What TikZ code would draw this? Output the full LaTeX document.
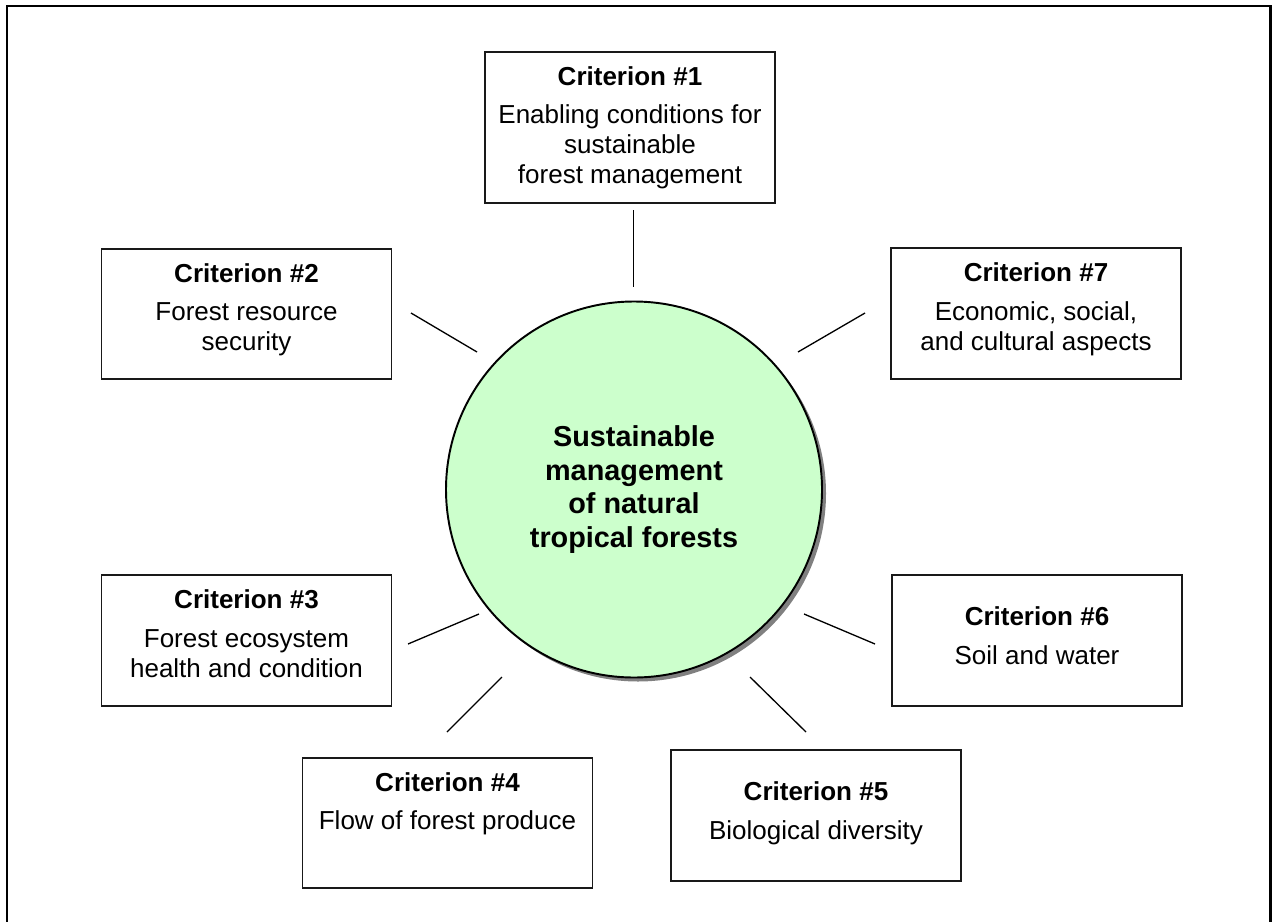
\documentclass[tikz,border=0pt]{standalone}
\usepackage{fontspec}
\setmainfont{Liberation Sans}
\usetikzlibrary{shadows}

\definecolor{hubgreen}{HTML}{CCFFCC}

\tikzset{
  critbox/.style={draw=black!90, line width=1pt, minimum width=5.8cm, minimum height=2.61cm, inner sep=0pt},
  crittext/.style={anchor=north, align=center, inner sep=0pt, font=\fontsize{14.8}{17}\selectfont},
  hub/.style={circle, draw=black, line width=1.1pt, fill=hubgreen, minimum size=7.52cm, inner sep=0pt,
    align=center, font=\fontsize{16.4}{19.3}\selectfont\bfseries,
    drop shadow={shadow xshift=0.08cm, shadow yshift=-0.08cm, fill=black!50, opacity=1}},
  spoke/.style={line width=0.75pt}
}

\begin{document}
\begin{tikzpicture}[draw=black]

\useasboundingbox (0,0) rectangle (25.44,-18.42);
\draw[line width=1.7pt] (0.14,-18.6) -- (0.14,-0.12) -- (25.41,-0.12) -- (25.41,-18.6);

\node[hub] (hub) at (12.68,-9.79) {Sustainable\\management\\of natural\\tropical forests};

\node[critbox, minimum height=3.02cm] (c1) at (12.60,-2.55) {};
\node[crittext, yshift=-0.30cm] (t1) at (c1.north) {\textbf{Criterion \#1}\\[5pt]Enabling conditions for\\sustainable\\forest management};

\node[critbox] (c2) at (4.93,-6.28) {};
\node[crittext, yshift=-0.30cm] (t2) at (c2.north) {\textbf{Criterion \#2}\\[5pt]Forest resource\\security};

\node[critbox] (c3) at (4.93,-12.81) {};
\node[crittext, yshift=-0.30cm] (t3) at (c3.north) {\textbf{Criterion \#3}\\[5pt]Forest ecosystem\\health and condition};

\node[critbox] (c4) at (8.95,-16.46) {};
\node[crittext, yshift=-0.30cm] (t4) at (c4.north) {\textbf{Criterion \#4}\\[5pt]Flow of forest produce};

\node[critbox] (c5) at (16.32,-16.31) {};
\node[crittext, yshift=-0.64cm] (t5) at (c5.north) {\textbf{Criterion \#5}\\[5pt]Biological diversity};

\node[critbox] (c6) at (20.74,-12.81) {};
\node[crittext, yshift=-0.64cm] (t6) at (c6.north) {\textbf{Criterion \#6}\\[5pt]Soil and water};

\node[critbox] (c7) at (20.72,-6.27) {};
\node[crittext, yshift=-0.30cm] (t7) at (c7.north) {\textbf{Criterion \#7}\\[5pt]Economic, social,\\and cultural aspects};

% spokes between the hub and the boxes
\coordinate (s1a) at (12.67,-4.20);  \coordinate (s1b) at (12.67,-5.74);
\coordinate (s2a) at (8.22,-6.26);   \coordinate (s2b) at (9.54,-7.04);
\coordinate (s3a) at (8.16,-12.88);  \coordinate (s3b) at (9.58,-12.28);
\coordinate (s4a) at (8.94,-14.64);  \coordinate (s4b) at (10.04,-13.54);
\coordinate (s5a) at (16.12,-14.64); \coordinate (s5b) at (15.00,-13.54);
\coordinate (s6a) at (17.50,-12.88); \coordinate (s6b) at (16.08,-12.28);
\coordinate (s7a) at (17.30,-6.26);  \coordinate (s7b) at (15.96,-7.04);
\foreach \i in {1,...,7} \draw[spoke] (s\i a) -- (s\i b);

\end{tikzpicture}
\end{document}
